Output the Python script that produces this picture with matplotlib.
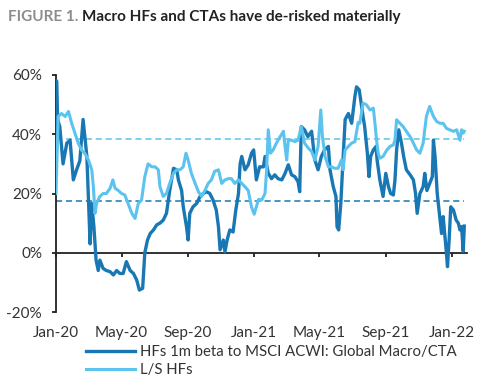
"""Figure 1: HF betas to MSCI ACWI, macro/CTA vs L/S."""

import matplotlib
matplotlib.use("Agg")  # non-interactive backend
import matplotlib.pyplot as plt
import matplotlib.dates as mdates
from matplotlib.ticker import FuncFormatter
import pandas as pd

# Days since 2020-01-01 and beta values (%)
start = pd.Timestamp("2020-01-01")

macro_days = [0, 1, 3, 7, 13, 20, 26, 32, 38, 44, 50, 57, 60, 63, 66, 70, 74, 78, 81, 87,
              93, 100, 106, 112, 118, 124, 130, 137, 143, 149, 154, 160, 164, 169, 174, 180, 186, 192,
              198, 204, 210, 217, 223, 226, 232, 235, 241, 244, 247, 253, 260, 266, 272, 278, 284,
              290, 296, 300, 303, 309, 312, 316, 321, 327, 332, 337, 340, 343, 349, 355, 361, 365,
              370, 376, 383, 386, 392, 398, 404, 410, 417, 423, 429, 435, 441, 447, 450, 453, 459,
              465, 472, 478, 484, 490, 496, 503, 506, 512, 517, 519, 522, 526, 530, 534, 540, 546,
              552, 555, 560, 567, 570, 575, 578, 581, 586, 591, 593, 598, 604, 609, 614, 618, 623,
              626, 629, 633, 638, 642, 647, 654, 660, 664, 667, 672, 678, 681, 685, 690, 695, 697,
              700, 704, 708, 712, 715, 720, 723, 726, 729, 734, 739, 743, 746, 749, 752, 754]
macro_vals = [30, 58, 45, 42.6, 30, 37, 38, 24.6, 28, 31, 45, 32.5, 17.8, 3, 16.7, 8.8, -2.5, -6, -2.5, -5.3,
              -6, -6.4, -7.5, -6, -7, -7, -3, -6, -7, -9.2, -12.6, -12, 0, 4.3, 6.5, 7.7, 9.4, 10,
              11, 13.3, 21, 28.5, 28, 24.6, 21, 15.5, 8.8, 4.3, 13.3, 15.5, 16.7, 19, 20, 20.6, 20,
              17.8, 14.4, 8.8, 1, 4.3, 0.3, 4.3, 7.7, 7, 14.4, 20, 30, 32.5, 28, 29.7, 33.6, 34.7,
              24.6, 29, 29, 32.5, 26.8, 25, 26.3, 25, 24.6, 26.8, 29.7, 26.3, 25.7, 24, 20.6, 42.6, 41.5,
              39.2, 41, 31.3, 28, 32.5, 34.7, 35.9, 28, 22.3, 19, 8.8, 7.7, 16.7, 31.3, 45, 47, 43.7,
              52.8, 56, 55, 46, 42.6, 33.6, 25.7, 32.5, 34.7, 35.9, 31.3, 24.6, 19, 26.8, 22.3, 20, 19.5,
              24.6, 34.7, 41.5, 37, 32.5, 28, 26.3, 24.6, 20, 13.3, 20, 22.3, 26.8, 21, 23.4, 25.7, 38,
              32.5, 20, 13.3, 6.5, 12.2, 2, -4.7, 4.3, 15.5, 14.4, 11, 10, 7.7, 8.8, 0.5, 9]

ls_days = [0, 4, 10, 17, 23, 29, 35, 41, 47, 53, 60, 66, 69, 72, 75, 81, 87, 93, 100, 105,
           109, 115, 121, 127, 133, 140, 146, 152, 158, 164, 170, 177, 183, 189, 192,
           198, 204, 210, 217, 223, 229, 235, 240, 244, 250, 257, 263, 269, 275, 281, 287, 293,
           300, 306, 312, 318, 324, 330, 337, 343, 349, 355, 361, 366, 374, 380, 386, 389,
           392, 396, 401, 407, 414, 420, 423, 426, 429, 435, 441, 447, 453, 459, 466, 472, 478,
           484, 489, 492, 497, 503, 509, 515, 521, 527, 530, 534, 540, 546, 552, 558, 561, 567,
           573, 580, 586, 589, 592, 595, 598, 604, 611, 617, 623, 626, 629, 635, 641, 647, 654,
           660, 666, 672, 678, 684, 690, 697, 703, 709, 715, 721, 727, 734, 740, 746, 749, 752, 754]
ls_vals = [20, 46, 47, 46, 47.7, 43.7, 40.4, 37, 34.7, 33.6, 31.3, 28, 22.3, 13.3, 16.7, 19, 20, 20, 21.8, 24.6,
           21.8, 21, 20, 19.5, 16.7, 13.3, 11.6, 16.7, 17.8, 25.7, 30, 29, 29, 28, 22.3,
           19, 20, 23.4, 26.8, 28, 28, 29, 33.6, 31.3, 26.8, 23.4, 20.6, 19, 21, 23.4, 24.6, 27.5,
           28, 23.4, 24.6, 25, 25, 23.4, 24.6, 23.4, 22.3, 21, 15.5, 13, 18, 17.8, 20, 28,
           41.5, 33.6, 34.7, 37, 39.2, 41, 35.9, 31.3, 38, 38, 37.5, 38, 42.6, 37, 35.3, 34.2, 31.3,
           35.9, 48.2, 39.2, 32.5, 29, 29, 28.5, 28.5, 31.3, 28, 34.7, 35.9, 37, 37.5, 44, 43.7, 50.5,
           50, 48.2, 48.8, 43.7, 38, 33.6, 31.9, 32.5, 34.7, 35.9, 36.4, 38, 44.9, 43.7, 42.6, 41, 39.2,
           37, 34.7, 33.6, 37, 46, 49.4, 46, 44.3, 43.7, 43.7, 42, 41.5, 41, 41.5, 38, 41.5, 40.4, 41]

macro_avg = 17.6
ls_avg = 38.5

tick_dates = ["2020-01-01", "2020-05-01", "2020-09-01", "2021-01-01",
              "2021-05-01", "2021-09-01", "2022-01-01"]

DARK = "#1978b3"
LIGHT = "#5bc3ee"

plt.rcParams["font.family"] = ["Lato", "DejaVu Sans"]

macro_x = start + pd.to_timedelta(macro_days, unit="D")
ls_x = start + pd.to_timedelta(ls_days, unit="D")

fig = plt.figure(figsize=(4.79, 3.81), dpi=100)
ax = fig.add_axes([56 / 479, 1 - 312 / 381, (467 - 56) / 479, (312 - 75) / 381])

ax.plot(macro_x, macro_vals, color=DARK, linewidth=2.4,
        label="HFs 1m beta to MSCI ACWI: Global Macro/CTA", zorder=3)
ax.plot(ls_x, ls_vals, color=LIGHT, linewidth=2.2, label="L/S HFs", zorder=3)

# long-run averages
ax.plot([macro_x[0], macro_x[-1]], [macro_avg, macro_avg], color=DARK,
        linewidth=1.1, linestyle=(0, (4, 2.5)), zorder=2)
ax.plot([ls_x[0], ls_x[-1]], [ls_avg, ls_avg], color=LIGHT,
        linewidth=1.1, linestyle=(0, (4, 2.5)), zorder=2)

ax.set_xlim(start, start + pd.Timedelta(days=759))
ax.set_ylim(-20, 60)
ax.set_yticks([-20, 0, 20, 40, 60])
ax.yaxis.set_major_formatter(FuncFormatter(lambda v, _: f"{v:.0f}%"))
ax.set_xticks(pd.to_datetime(tick_dates))
ax.xaxis.set_major_formatter(mdates.DateFormatter("%b-%y"))

for side in ["top", "right"]:
    ax.spines[side].set_visible(False)
ax.spines["bottom"].set_position(("data", 0))
for side in ["left", "bottom"]:
    ax.spines[side].set_color("#222222")
    ax.spines[side].set_linewidth(1.3)

ax.tick_params(axis="y", direction="out", length=3, width=1.3, pad=7,
               labelsize=11, labelcolor="#333333", color="#222222")
ax.tick_params(axis="x", direction="out", length=3, width=1.3, pad=50,
               labelsize=11, labelcolor="#333333", color="#222222")

fig.legend(loc="upper left", bbox_to_anchor=(86 / 479, 1 - 345 / 381), frameon=False,
           fontsize=10.7, handlelength=3.3, handletextpad=0.34, labelspacing=0.3,
           borderaxespad=0, borderpad=0, labelcolor="#333333")

# Title in two colours
t1 = fig.text(8 / 479, 1 - 17 / 381, "FIGURE 1.", color="#8c8c8c", fontsize=11,
              fontweight="bold", va="center", ha="left")
fig.canvas.draw()
bb = t1.get_window_extent()
fig.text(bb.x1 / fig.bbox.width + 4 / 479, 1 - 17 / 381,
         "Macro HFs and CTAs have de-risked materially", color="#222222",
         fontsize=11, fontweight="bold", va="center", ha="left")

fig.savefig("out.png", dpi=100)
plt.close(fig)
